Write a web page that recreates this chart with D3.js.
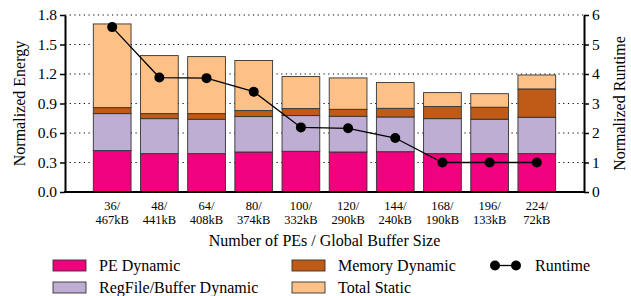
<!DOCTYPE html>
<html lang="en">
<head>
<meta charset="utf-8">
<script src="https://d3js.org/d3.v7.min.js"></script>
<style>
  body { margin: 0; background: #fff; }
</style>
</head>
<body>
<div id="chart"></div>
<script>
var pes = ["36/", "48/", "64/", "80/", "100/", "120/", "144/", "168/", "196/", "224/"];
var buffers = ["467kB", "441kB", "408kB", "374kB", "332kB", "290kB", "240kB", "190kB", "133kB", "72kB"];
var peDynamic = [0.421, 0.39, 0.39, 0.407, 0.414, 0.407, 0.41, 0.39, 0.39, 0.39];
var regDynamic = [0.376, 0.356, 0.35, 0.36, 0.363, 0.363, 0.353, 0.356, 0.35, 0.37];
var memDynamic = [0.061, 0.051, 0.057, 0.061, 0.071, 0.071, 0.088, 0.123, 0.122, 0.288];
var totalStatic = [0.851, 0.59, 0.58, 0.509, 0.326, 0.319, 0.262, 0.142, 0.138, 0.142];
var runtime = [5.59, 3.88, 3.86, 3.40, 2.19, 2.16, 1.83, 1.0, 1.0, 1.0];
var energyTicks = [0, 0.3, 0.6, 0.9, 1.2, 1.5, 1.8];
var runtimeTicks = [0, 1, 2, 3, 4, 5, 6];

var series = [
  {name: "PE Dynamic", values: peDynamic, color: "#f0027f"},
  {name: "RegFile/Buffer Dynamic", values: regDynamic, color: "#beaed4"},
  {name: "Memory Dynamic", values: memDynamic, color: "#bf5b17"},
  {name: "Total Static", values: totalStatic, color: "#fdc086"}
];

var W = 631, H = 296;
var m = {left: 65, right: 47, top: 15, bottom: 104};
var FONT = "Liberation Serif";
var svg = d3.select("#chart").append("svg").attr("width", W).attr("height", H)
  .attr("font-family", FONT);

var x = d3.scaleBand().domain(d3.range(pes.length))
  .range([m.left, W - m.right]).paddingInner(0.2).paddingOuter(0.6);
var y = d3.scaleLinear().domain([0, 1.8]).range([H - m.bottom, m.top]);
var y2 = d3.scaleLinear().domain([0, 6]).range([H - m.bottom, m.top]);

// grid
svg.append("g").selectAll("line").data(energyTicks.slice(1)).join("line")
  .attr("x1", m.left).attr("x2", W - m.right)
  .attr("y1", d => y(d)).attr("y2", d => y(d))
  .attr("stroke", "#000").attr("stroke-width", 1).attr("stroke-dasharray", "1.2,3.5");

// stacked bars
var table = pes.map((p, i) => {
  var o = {i: i};
  series.forEach(s => o[s.name] = s.values[i]);
  return o;
});
var stack = d3.stack().keys(series.map(s => s.name))(table);
svg.append("g").selectAll("g").data(stack).join("g")
  .attr("fill", (d, k) => series[k].color)
  .selectAll("rect").data(d => d).join("rect")
  .attr("x", d => x(d.data.i))
  .attr("width", x.bandwidth())
  .attr("y", d => y(d[1]))
  .attr("height", d => y(d[0]) - y(d[1]))
  .attr("stroke", "#333").attr("stroke-width", 0.9);

// runtime line
var cx = i => x(i) + x.bandwidth() / 2;
svg.append("path").datum(runtime)
  .attr("d", d3.line().x((d, i) => cx(i)).y(d => y2(d)))
  .attr("fill", "none").attr("stroke", "#000").attr("stroke-width", 1.3);
svg.append("g").selectAll("circle").data(runtime).join("circle")
  .attr("cx", (d, i) => cx(i)).attr("cy", d => y2(d)).attr("r", 5).attr("fill", "#000");

// axes
var yAxis = svg.append("g").attr("transform", "translate(" + m.left + ",0)")
  .call(d3.axisLeft(y).tickValues(energyTicks).tickFormat(d3.format(".1f")).tickSize(5).tickSizeOuter(0));
var y2Axis = svg.append("g").attr("transform", "translate(" + (W - m.right) + ",0)")
  .call(d3.axisRight(y2).tickValues(runtimeTicks).tickFormat(d3.format("d")).tickSize(5).tickSizeOuter(0));
[yAxis, y2Axis].forEach(a => {
  a.attr("font-family", FONT).attr("font-size", 15.5);
  a.select(".domain").attr("stroke-width", 2);
  a.selectAll(".tick line").attr("stroke-width", 1.5);
  a.selectAll("text").attr("fill", "#000");
});
svg.append("line").attr("x1", m.left - 1).attr("x2", W - m.right + 1)
  .attr("y1", y(0)).attr("y2", y(0)).attr("stroke", "#000").attr("stroke-width", 2);

// x labels
var xl = svg.append("g").selectAll("text").data(pes).join("text")
  .attr("x", (d, i) => cx(i)).attr("text-anchor", "middle").attr("font-size", 12.5);
xl.append("tspan").attr("x", (d, i) => cx(i)).attr("y", 209.5).text(d => d);
xl.append("tspan").attr("x", (d, i) => cx(i)).attr("y", 224).text((d, i) => buffers[i]);

svg.append("text").attr("x", (m.left + W - m.right) / 2).attr("y", 246).attr("text-anchor", "middle")
  .attr("font-size", 16).text("Number of PEs / Global Buffer Size");
svg.append("text").attr("transform", "translate(25," + y(0.9) + ") rotate(-90)")
  .attr("text-anchor", "middle").attr("font-size", 16).text("Normalized Energy");
svg.append("text").attr("transform", "translate(625," + y(0.9) + ") rotate(-90)")
  .attr("text-anchor", "middle").attr("font-size", 16).text("Normalized Runtime");

// legend
var legPos = [[53, 260], [53, 282], [292, 260], [292, 282]];
var lg = svg.append("g").selectAll("g").data(series).join("g")
  .attr("transform", (d, k) => "translate(" + legPos[k][0] + "," + legPos[k][1] + ")");
lg.append("rect").attr("width", 33).attr("height", 11)
  .attr("fill", d => d.color).attr("stroke", "#333").attr("stroke-width", 0.9);
lg.append("text").attr("x", 46).attr("y", 11).attr("font-size", 16).text(d => d.name);
var rl = svg.append("g").attr("transform", "translate(495,265.5)");
rl.append("line").attr("x1", 0).attr("x2", 21).attr("stroke", "#000").attr("stroke-width", 1.3);
rl.selectAll("circle").data([0, 21]).join("circle").attr("cx", d => d).attr("r", 5).attr("fill", "#000");
rl.append("text").attr("x", 40).attr("y", 5.5).attr("font-size", 16).text("Runtime");
</script>
</body>
</html>
